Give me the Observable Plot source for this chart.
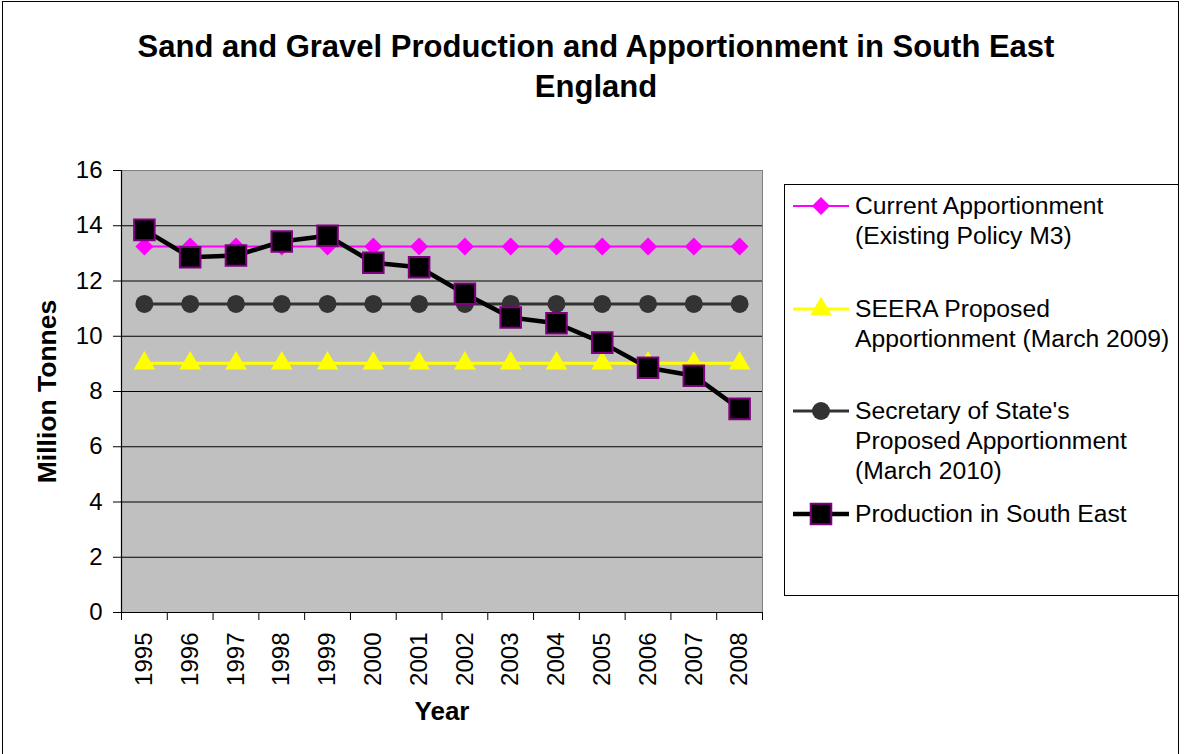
<!DOCTYPE html>
<html>
<head>
<meta charset="utf-8">
<script src="https://cdn.jsdelivr.net/npm/d3@7"></script>
<script src="https://cdn.jsdelivr.net/npm/@observablehq/plot@0.6"></script>
<style>
  html, body { margin: 0; padding: 0; background: #fff; }
  #wrap { position: relative; width: 1184px; height: 754px; overflow: hidden; font-family: "Liberation Sans", Arial, sans-serif; color: #000; }
  #border { position: absolute; left: 2px; top: 1px; width: 1177px; height: 760px; border: 1px solid #000; box-sizing: border-box; }
  #title { position: absolute; left: 96px; width: 1000px; top: 27px; text-align: center; font-weight: bold; font-size: 31px; line-height: 40px; }
  #chart { position: absolute; left: 0; top: 0; }
  #legend { position: absolute; left: 784px; top: 184px; width: 395px; height: 412px; border: 1px solid #000; box-sizing: border-box; background: #fff; }
  .entry { position: absolute; left: 0; }
  .entry svg { position: absolute; left: 7px; top: 0; }
  .entry .lbl { position: absolute; left: 70px; top: 0; font-size: 24.7px; line-height: 30px; white-space: nowrap; }
</style>
</head>
<body>
<div id="wrap">
  <div id="chart"></div>
  <div id="border"></div>
  <div id="title"></div>
  <div id="legend"></div>
</div>
<script>
// ---- Data ----
const years = [1995, 1996, 1997, 1998, 1999, 2000, 2001, 2002, 2003, 2004, 2005, 2006, 2007, 2008];
const currentApportionment = [13.25, 13.25, 13.25, 13.25, 13.25, 13.25, 13.25, 13.25, 13.25, 13.25, 13.25, 13.25, 13.25, 13.25];
const seeraApportionment = [9.02, 9.02, 9.02, 9.02, 9.02, 9.02, 9.02, 9.02, 9.02, 9.02, 9.02, 9.02, 9.02, 9.02];
const sosApportionment = [11.17, 11.17, 11.17, 11.17, 11.17, 11.17, 11.17, 11.17, 11.17, 11.17, 11.17, 11.17, 11.17, 11.17];
const production = [13.85, 12.86, 12.92, 13.43, 13.64, 12.66, 12.50, 11.54, 10.68, 10.47, 9.77, 8.86, 8.57, 7.37];
const yTicks = [0, 2, 4, 6, 8, 10, 12, 14, 16];
const seriesNames = [
  "Current Apportionment (Existing Policy M3)",
  "SEERA Proposed Apportionment (March 2009)",
  "Secretary of State's Proposed Apportionment (March 2010)",
  "Production in South East"
];
const legendLines = [
  ["Current Apportionment", "(Existing Policy M3)"],
  ["SEERA Proposed", "Apportionment (March 2009)"],
  ["Secretary of State's", "Proposed Apportionment", "(March 2010)"],
  ["Production in South East"]
];
const titleLines = ["Sand and Gravel Production and Apportionment in South East", "England"];
const xLabel = "Year";
const yLabel = "Million Tonnes";

// ---- Styles per series ----
const styles = [
  {line: "#FF00FF", lineWidth: 2, symbol: "diamond2", r: 8.1, fill: "#FF00FF", stroke: "none", sw: 0},
  {line: "#FFFF00", lineWidth: 3, symbol: "triangle", r: 8, fill: "#FFFF00", stroke: "none", sw: 0},
  {line: "#333333", lineWidth: 3, symbol: "circle", r: 9, fill: "#333333", stroke: "none", sw: 0},
  {line: "#000000", lineWidth: 4.5, symbol: "square", r: 11.6, fill: "#000000", stroke: "#800080", sw: 2}
];

const seriesValues = [currentApportionment, seeraApportionment, sosApportionment, production];
const tables = seriesValues.map((vals, s) => years.map((yr, i) => ({year: yr, value: vals[i], series: seriesNames[s]})));

const xDomain = [years[0] - 0.5, years[years.length - 1] + 0.5];
const boundaries = years.map(y => y - 0.5).concat([years[years.length - 1] + 0.5]);

const seriesMarks = [];
tables.forEach((t, s) => {
  const st = styles[s];
  seriesMarks.push(Plot.line(t, {x: "year", y: "value", stroke: st.line, strokeWidth: st.lineWidth}));
  seriesMarks.push(Plot.dot(t, {x: "year", y: "value", symbol: () => st.symbol, r: st.r, fill: st.fill, stroke: st.stroke, strokeWidth: st.sw}));
});

const chart = Plot.plot({
  width: 1184,
  height: 754,
  marginTop: 170,
  marginBottom: 142,
  marginLeft: 121,
  marginRight: 422,
  style: {fontFamily: '"Liberation Sans", Arial, sans-serif', background: "transparent", overflow: "visible", color: "#000"},
  x: {type: "linear", domain: xDomain},
  y: {domain: [yTicks[0], yTicks[yTicks.length - 1]]},
  symbol: {type: "identity"},
  marks: [
    Plot.frame({fill: "#C0C0C0", stroke: "#808080"}),
    Plot.gridY({ticks: yTicks.slice(0, -1), stroke: "#000", strokeOpacity: 1, strokeWidth: 1}),
    Plot.ruleX([xDomain[0]], {stroke: "#000", strokeWidth: 1.2}),
    Plot.ruleY([yTicks[0]], {stroke: "#000", strokeWidth: 1.2}),
    Plot.axisY({ticks: yTicks, tickSize: 8, tickPadding: 11, fontSize: 24, label: null, stroke: "#000"}),
    Plot.axisX({ticks: boundaries, tickSize: 8, tickFormat: () => "", label: null, stroke: "#000"}),
    Plot.axisX({ticks: years, tickSize: 0, tickPadding: 20, tickRotate: -90, fontSize: 24, tickFormat: d => String(d), label: null}),
    ...seriesMarks,
    Plot.text([xLabel], {frameAnchor: "bottom", dy: 99, text: d => d, fontSize: 26, fontWeight: "bold", lineAnchor: "middle", textAnchor: "middle"}),
    Plot.text([yLabel], {frameAnchor: "left", dx: -74, text: d => d, rotate: -90, fontSize: 26.5, fontWeight: "bold", lineAnchor: "middle", textAnchor: "middle"})
  ]
});
document.getElementById("chart").appendChild(chart);

// ---- Title ----
document.getElementById("title").innerHTML = titleLines.join("<br>");

// ---- Legend ----
const legend = d3.select("#legend");
const entrySpacing = 102.7;
legendLines.forEach((lines, s) => {
  const st = styles[s];
  const e = legend.append("div").attr("class", "entry").style("top", (6 + s * entrySpacing) + "px");
  const svg = e.append("svg").attr("width", 58).attr("height", 30);
  svg.append("line").attr("x1", 1).attr("x2", 57).attr("y1", 15).attr("y2", 15)
    .attr("stroke", st.line).attr("stroke-width", st.lineWidth);
  const symType = {diamond2: d3.symbolDiamond2, triangle: d3.symbolTriangle, circle: d3.symbolCircle, square: d3.symbolSquare}[st.symbol];
  svg.append("path").attr("transform", "translate(29,15)")
    .attr("d", d3.symbol(symType, st.r * st.r * Math.PI)())
    .attr("fill", st.fill).attr("stroke", st.stroke).attr("stroke-width", st.sw);
  e.append("div").attr("class", "lbl").html(lines.join("<br>"));
});
</script>
</body>
</html>
